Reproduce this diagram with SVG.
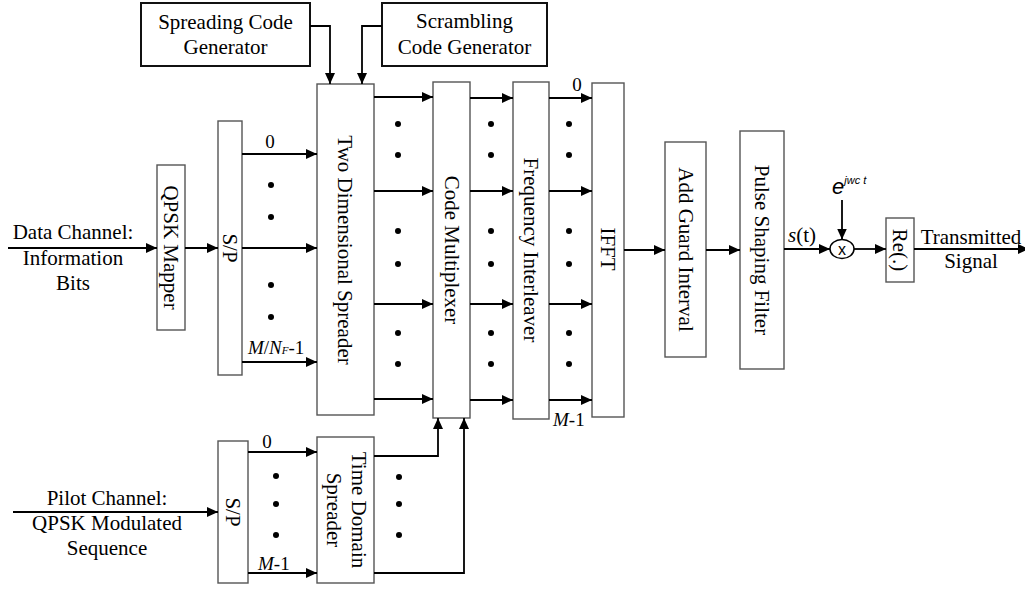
<svg xmlns="http://www.w3.org/2000/svg" width="1025" height="589" viewBox="0 0 1025 589">
<defs>
<marker id="ah" markerWidth="11" markerHeight="10" refX="11" refY="5" orient="auto" markerUnits="userSpaceOnUse"><path d="M0,0 L11,5 L0,10 z" fill="#000"/></marker>
<style>
.box{fill:#fff;stroke:#555;stroke-width:1.4}
.gen{fill:#fff;stroke:#111;stroke-width:2}
.t{font-family:"Liberation Serif","Times New Roman",serif;font-size:21px;fill:#000}
.s{font-family:"Liberation Serif","Times New Roman",serif;font-size:19px;fill:#000}
.c{fill:none;stroke:#000;stroke-width:1.8}
.a{fill:none;stroke:#000;stroke-width:1.8;marker-end:url(#ah)}
.dot{fill:#000}
</style>
</defs>
<rect width="1025" height="589" fill="#fff"/>

<g id="spreading-code-generator">
<rect class="gen" x="141" y="3" width="169" height="63"/>
<text class="t" x="225.5" y="29" text-anchor="middle">Spreading Code</text>
<text class="t" x="225.5" y="54" text-anchor="middle">Generator</text>
</g>
<g id="scrambling-code-generator">
<rect class="gen" x="382" y="3" width="165" height="63"/>
<text class="t" x="464.5" y="28" text-anchor="middle">Scrambling</text>
<text class="t" x="464.5" y="54" text-anchor="middle">Code Generator</text>
</g>
<g id="qpsk-mapper">
<rect class="box" x="157" y="165" width="28" height="165"/>
<text class="t" transform="translate(171,247.5) rotate(90)" text-anchor="middle" dominant-baseline="central">QPSK Mapper</text>
</g>
<g id="sp-data">
<rect class="box" x="218" y="121" width="24" height="254"/>
<text class="t" transform="translate(230,248) rotate(90)" text-anchor="middle" dominant-baseline="central">S/P</text>
</g>
<g id="two-dimensional-spreader">
<rect class="box" x="317" y="84" width="57" height="331"/>
<text class="t" transform="translate(345,250) rotate(90)" text-anchor="middle" dominant-baseline="central">Two Dimensional Spreader</text>
</g>
<g id="code-multiplexer">
<rect class="box" x="433" y="82" width="37" height="336"/>
<text class="t" transform="translate(451.5,250) rotate(90)" text-anchor="middle" dominant-baseline="central">Code Multiplexer</text>
</g>
<g id="frequency-interleaver">
<rect class="box" x="513" y="82" width="36" height="337"/>
<text class="t" transform="translate(531,250) rotate(90)" text-anchor="middle" dominant-baseline="central">Frequency Interleaver</text>
</g>
<g id="ifft">
<rect class="box" x="592" y="83" width="32" height="334"/>
<text class="t" transform="translate(608,249) rotate(90)" text-anchor="middle" dominant-baseline="central">IFFT</text>
</g>
<g id="add-guard-interval">
<rect class="box" x="665" y="142" width="41" height="215"/>
<text class="t" transform="translate(685.5,249.5) rotate(90)" text-anchor="middle" dominant-baseline="central">Add Guard Interval</text>
</g>
<g id="pulse-shaping-filter">
<rect class="box" x="740" y="131" width="44" height="238"/>
<text class="t" transform="translate(762,250) rotate(90)" text-anchor="middle" dominant-baseline="central">Pulse Shaping Filter</text>
</g>
<g id="multiplier">
<ellipse cx="842" cy="249" rx="12" ry="9.5" fill="#fff" stroke="#000" stroke-width="1.5"/>
<text x="842" y="249" font-family="Liberation Sans, Arial, sans-serif" font-size="16" text-anchor="middle" dominant-baseline="central">x</text>
</g>
<g id="re">
<rect class="box" x="886" y="218" width="28" height="64"/>
<text class="t" transform="translate(900,250) rotate(90)" text-anchor="middle" dominant-baseline="central">Re(.)</text>
</g>
<g id="sp-pilot">
<rect class="box" x="218" y="441" width="30" height="142"/>
<text class="t" transform="translate(233,512) rotate(90)" text-anchor="middle" dominant-baseline="central">S/P</text>
</g>
<g id="time-domain-spreader">
<rect class="box" x="317" y="437" width="57" height="146"/>
<text class="t" transform="translate(345.5,510) rotate(90)" text-anchor="middle"><tspan x="0" y="-6">Time Domain</tspan><tspan x="0" y="19">Spreader</tspan></text>
</g>

<g id="labels">
<text class="t" x="73" y="239" text-anchor="middle">Data Channel:</text>
<text class="t" x="73" y="265" text-anchor="middle">Information</text>
<text class="t" x="73" y="290" text-anchor="middle">Bits</text>
<text class="t" x="107" y="505" text-anchor="middle">Pilot Channel:</text>
<text class="t" x="107" y="530" text-anchor="middle">QPSK Modulated</text>
<text class="t" x="107" y="555" text-anchor="middle">Sequence</text>
<text class="s" x="270" y="148" text-anchor="middle">0</text>
<text class="s" x="248" y="354"><tspan font-style="italic">M</tspan>/<tspan font-style="italic">N</tspan><tspan font-style="italic" font-size="11">F</tspan>-1</text>
<text class="s" x="267" y="448" text-anchor="middle">0</text>
<text class="s" x="258" y="570"><tspan font-style="italic">M</tspan>-1</text>
<text class="s" x="577" y="91" text-anchor="middle">0</text>
<text class="s" x="553" y="426"><tspan font-style="italic">M</tspan>-1</text>
<text class="t" x="788" y="242"><tspan font-style="italic">s</tspan>(t)</text>
<text x="832" y="194" font-family="Liberation Sans, Arial, sans-serif" font-style="italic" font-size="22">e<tspan font-size="11" dy="-10">jwc t</tspan></text>
<text class="t" x="971" y="244" text-anchor="middle">Transmitted</text>
<text class="t" x="971" y="268" text-anchor="middle">Signal</text>
</g>

<g id="dots">
<circle class="dot" cx="271" cy="185" r="3"/><circle class="dot" cx="271" cy="217" r="3"/>
<circle class="dot" cx="271" cy="285" r="3"/><circle class="dot" cx="271" cy="317" r="3"/>
<circle class="dot" cx="398" cy="124" r="3"/><circle class="dot" cx="398" cy="155" r="3"/>
<circle class="dot" cx="398" cy="231" r="3"/><circle class="dot" cx="398" cy="264" r="3"/>
<circle class="dot" cx="398" cy="333" r="3"/><circle class="dot" cx="398" cy="364" r="3"/>
<circle class="dot" cx="491" cy="124" r="3"/><circle class="dot" cx="491" cy="155" r="3"/>
<circle class="dot" cx="491" cy="231" r="3"/><circle class="dot" cx="491" cy="264" r="3"/>
<circle class="dot" cx="491" cy="333" r="3"/><circle class="dot" cx="491" cy="364" r="3"/>
<circle class="dot" cx="569" cy="124" r="3"/><circle class="dot" cx="569" cy="155" r="3"/>
<circle class="dot" cx="569" cy="231" r="3"/><circle class="dot" cx="569" cy="264" r="3"/>
<circle class="dot" cx="569" cy="333" r="3"/><circle class="dot" cx="569" cy="364" r="3"/>
<circle class="dot" cx="276" cy="476" r="3"/><circle class="dot" cx="276" cy="504" r="3"/><circle class="dot" cx="276" cy="535" r="3"/>
<circle class="dot" cx="399" cy="477" r="3"/><circle class="dot" cx="399" cy="504" r="3"/><circle class="dot" cx="399" cy="535" r="3"/>
</g>

<g id="connectors">
<path class="a" d="M310,26 H330 V84"/>
<path class="a" d="M382,26 H362 V84"/>
<path class="a" d="M8,248 H157"/>
<path class="a" d="M185,248 H218"/>
<path class="a" d="M242,154 H317"/>
<path class="a" d="M242,248 H317"/>
<path class="a" d="M242,362 H317"/>
<path class="a" d="M374,97 H433"/>
<path class="a" d="M374,191 H433"/>
<path class="a" d="M374,304 H433"/>
<path class="a" d="M374,399 H433"/>
<path class="a" d="M470,98 H513"/>
<path class="a" d="M470,191 H513"/>
<path class="a" d="M470,304 H513"/>
<path class="a" d="M470,400 H513"/>
<path class="a" d="M549,98 H592"/>
<path class="a" d="M549,191 H592"/>
<path class="a" d="M549,304 H592"/>
<path class="a" d="M549,400 H592"/>
<path class="a" d="M624,250 H665"/>
<path class="a" d="M706,250 H740"/>
<path class="a" d="M784,249 H830"/>
<path class="a" d="M842,200 V239.5"/>
<path class="a" d="M854,249 H886"/>
<path class="a" d="M914,249 H1029"/>
<path class="a" d="M13,512 H218"/>
<path class="a" d="M248,452 H317"/>
<path class="a" d="M248,573 H317"/>
<path class="a" d="M374,456 H438 V418"/>
<path class="a" d="M374,573 H464 V418"/>
</g>
</svg>
